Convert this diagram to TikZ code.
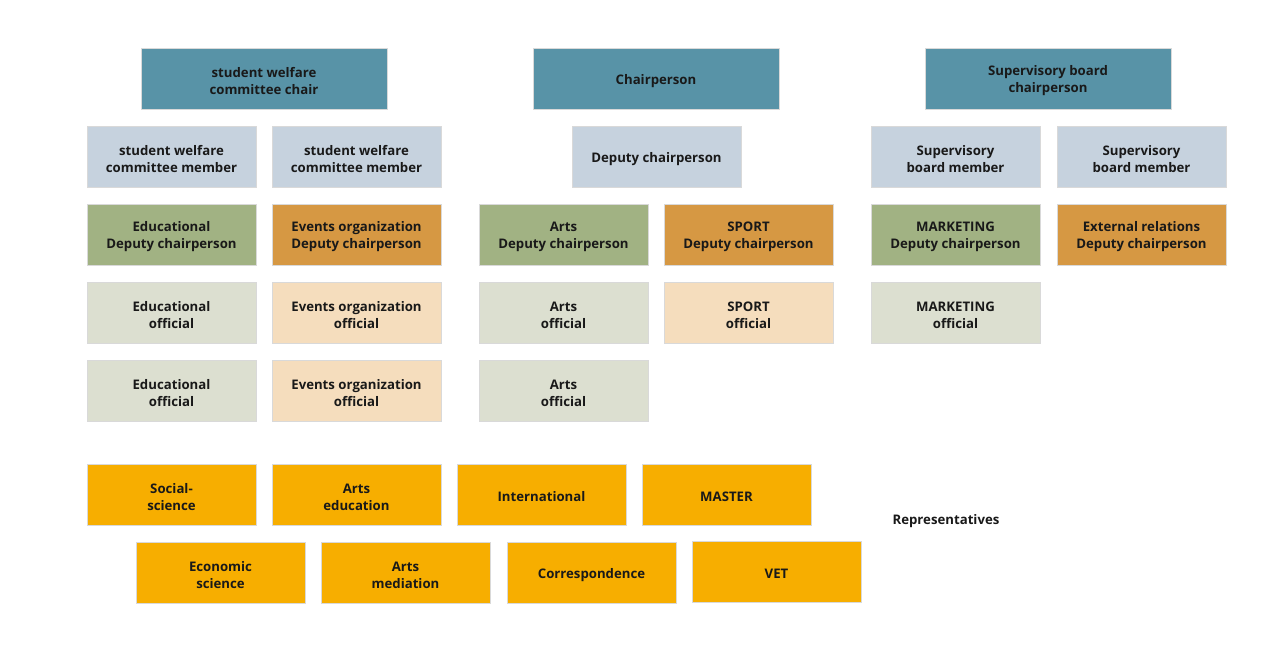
\documentclass[tikz,border=0pt]{standalone}
\usepackage{fontspec}
\setmainfont{Open Sans}
\definecolor{teal}{HTML}{5893A7}
\definecolor{lblue}{HTML}{C6D2DE}
\definecolor{green}{HTML}{A1B283}
\definecolor{orng}{HTML}{D69843}
\definecolor{lgreen}{HTML}{DCDFD0}
\definecolor{peach}{HTML}{F5DDBD}
\definecolor{yell}{HTML}{F7AE00}
\begin{document}
\begin{tikzpicture}[x=1pt,y=-1pt,
  tlab/.style={inner sep=0pt, align=center, yshift=-2.5pt,
    font=\fontsize{13.2}{17}\selectfont\bfseries, text=black!90},
  T/.style={label={[tlab]center:{#1}}},
  box/.style={draw=white!85!black, line width=0.6pt, inner sep=0pt},
  wide/.style={box, minimum width=246pt, minimum height=61pt},
  narrow/.style={box, minimum width=169pt, minimum height=61pt}]
\useasboundingbox (0,0) rectangle (1283,657);
\fill[white] (0,0) rectangle (1283,657);
% top row
\node[wide, fill=teal, T={student welfare\\committee chair}] (swcc) at (264,78.5) {};
\node[wide, fill=teal, T={Chairperson}] (chair) at (656,78.5) {};
\node[wide, fill=teal, T={Supervisory board\\chairperson}] (sbc) at (1048,78.5) {};
% row 1
\node[narrow, fill=lblue, T={student welfare\\committee member}] (swm1) at (171.5,156.5) {};
\node[narrow, fill=lblue, T={student welfare\\committee member}] (swm2) at (356.5,156.5) {};
\node[narrow, fill=lblue, T={Deputy chairperson}] (dep) at (656.5,156.5) {};
\node[narrow, fill=lblue, T={Supervisory\\board member}] (sbm1) at (955.5,156.5) {};
\node[narrow, fill=lblue, T={Supervisory\\board member}] (sbm2) at (1141.5,156.5) {};
% row 2
\node[narrow, fill=green, T={Educational\\Deputy chairperson}] (edd) at (171.5,234.5) {};
\node[narrow, fill=orng, T={Events organization\\Deputy chairperson}] (evd) at (356.5,234.5) {};
\node[narrow, fill=green, T={Arts\\Deputy chairperson}] (ard) at (563.5,234.5) {};
\node[narrow, fill=orng, T={SPORT\\Deputy chairperson}] (spd) at (748.5,234.5) {};
\node[narrow, fill=green, T={MARKETING\\Deputy chairperson}] (mkd) at (955.5,234.5) {};
\node[narrow, fill=orng, T={External relations\\Deputy chairperson}] (exd) at (1141.5,234.5) {};
% row 3
\node[narrow, fill=lgreen, T={Educational\\official}] (edo1) at (171.5,312.5) {};
\node[narrow, fill=peach, T={Events organization\\official}] (evo1) at (356.5,312.5) {};
\node[narrow, fill=lgreen, T={Arts\\official}] (aro1) at (563.5,312.5) {};
\node[narrow, fill=peach, T={SPORT\\official}] (spo) at (748.5,312.5) {};
\node[narrow, fill=lgreen, T={MARKETING\\official}] (mko) at (955.5,312.5) {};
% row 4
\node[narrow, fill=lgreen, T={Educational\\official}] (edo2) at (171.5,390.5) {};
\node[narrow, fill=peach, T={Events organization\\official}] (evo2) at (356.5,390.5) {};
\node[narrow, fill=lgreen, T={Arts\\official}] (aro2) at (563.5,390.5) {};
% representatives
\node[narrow, fill=yell, T={Social-\\science}] (soc) at (171.5,494.5) {};
\node[narrow, fill=yell, T={Arts\\education}] (ared) at (356.5,494.5) {};
\node[narrow, fill=yell, T={International}] (intl) at (541.5,494.5) {};
\node[narrow, fill=yell, T={MASTER}] (mast) at (726.5,494.5) {};
\node[narrow, fill=yell, T={Economic\\science}] (eco) at (220.5,572.5) {};
\node[narrow, fill=yell, T={Arts\\mediation}] (arm) at (405.5,572.5) {};
\node[narrow, fill=yell, T={Correspondence}] (corr) at (591.5,572.5) {};
\node[narrow, fill=yell, T={VET}] (vet) at (776.5,571.5) {};
\node[tlab] (rep) at (946,519) {Representatives};
\end{tikzpicture}
\end{document}
